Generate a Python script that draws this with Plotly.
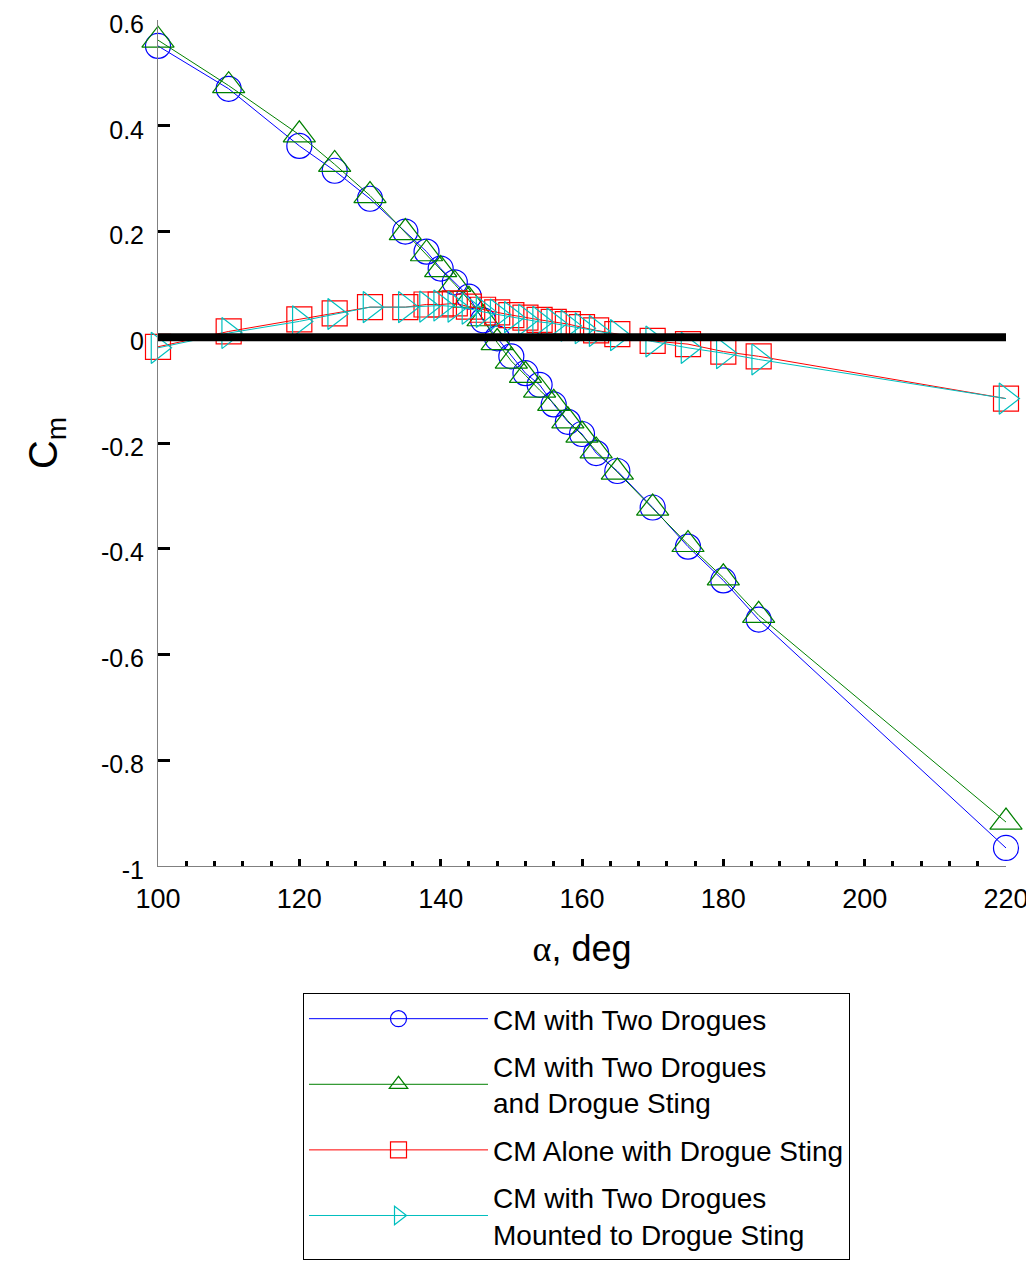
import plotly.graph_objects as go

alpha_deg = [100, 110, 120, 125, 130, 135, 138, 140, 142, 144, 146, 148, 150,
             152, 154, 156, 158, 160, 162, 165, 170, 175, 180, 185, 220]

cm_two_drogues = [0.551, 0.470, 0.362, 0.315, 0.262, 0.200, 0.162, 0.130, 0.104,
                  0.077, 0.032, -0.002, -0.036, -0.068, -0.090, -0.127, -0.160,
                  -0.183, -0.219, -0.253, -0.322, -0.396, -0.460, -0.534, -0.966]

cm_two_drogues_sting = [0.562, 0.476, 0.383, 0.327, 0.268, 0.198, 0.158, 0.128,
                        0.100, 0.070, 0.035, -0.010, -0.045, -0.072, -0.100,
                        -0.125, -0.158, -0.185, -0.215, -0.255, -0.323, -0.392,
                        -0.455, -0.526, -0.917]

cm_alone_sting = [-0.018, 0.011, 0.034, 0.045, 0.057, 0.057, 0.062, 0.062, 0.064,
                  0.058, 0.052, 0.047, 0.042, 0.037, 0.033, 0.029, 0.025, 0.019,
                  0.013, 0.006, -0.007, -0.013, -0.027, -0.036, -0.116]

cm_mounted_sting = [-0.020, 0.008, 0.030, 0.044, 0.057, 0.057, 0.058, 0.060,
                    0.058, 0.054, 0.048, 0.043, 0.038, 0.033, 0.029, 0.026,
                    0.022, 0.017, 0.012, 0.004, -0.008, -0.020, -0.030, -0.042,
                    -0.116]

zero_x = [100, 220]
zero_y = [0, 0]

x_ticks = [100, 120, 140, 160, 180, 200, 220]
y_ticks = [-1, -0.8, -0.6, -0.4, -0.2, 0, 0.2, 0.4, 0.6]
y_tick_text = ["-1", "-0.8", "-0.6", "-0.4", "-0.2", "0", "0.2", "0.4", "0.6"]

series_names = ["CM with Two Drogues",
                "CM with Two Drogues<br>and Drogue Sting",
                "CM Alone with Drogue Sting",
                "CM with Two Drogues<br>Mounted to Drogue Sting"]

FONT = "Liberation Sans, Arial, Helvetica, sans-serif"

fig = go.Figure()

specs = [
    (cm_two_drogues, "#0000FF", "circle-open", 25),
    (cm_two_drogues_sting, "#008000", "triangle-up-open", 28),
    (cm_alone_sting, "#FF0000", "square-open", 25),
    (cm_mounted_sting, "#00BFBF", "triangle-right-open", 27),
]
for i, ((vals, col, sym, sz), name) in enumerate(zip(specs, series_names)):
    fig.add_trace(go.Scatter(
        x=alpha_deg, y=vals, name=name, mode="lines+markers",
        legendgroup=f"g{i}",
        line=dict(color=col, width=1),
        marker=dict(symbol=sym, size=sz, color=col, line=dict(color=col, width=1.2)),
        cliponaxis=False,
    ))

fig.add_trace(go.Scatter(
    x=zero_x, y=zero_y, mode="lines", showlegend=False,
    line=dict(color="black", width=8), hoverinfo="skip", cliponaxis=False,
))

# page body has an 8px margin, so the figure is 8px smaller than the window
fig.update_layout(
    width=1026, height=1256,
    margin=dict(l=150, r=28, t=12, b=398, autoexpand=False),
    paper_bgcolor="white", plot_bgcolor="white",
    font=dict(family=FONT, size=26, color="black"),
    showlegend=True,
    legend=dict(
        x=0.171, y=-0.1501, xanchor="left", yanchor="top",
        bordercolor="black", borderwidth=1, bgcolor="white",
        font=dict(family=FONT, size=28, color="black"),
        itemwidth=179, tracegroupgap=8,
    ),
)

fig.update_xaxes(
    range=[100, 220], tickvals=x_ticks,
    ticks="inside", ticklen=7, tickwidth=3, tickcolor="black",
    minor=dict(dtick=4, tick0=100, ticks="inside", ticklen=5, tickwidth=3, tickcolor="black"),
    showline=True, linecolor="#808080", linewidth=1, mirror=False,
    showgrid=False, zeroline=False, automargin=False,
    tickfont=dict(family=FONT, size=27), ticklabelstandoff=9,
    title=dict(text="<span style='font-family:Liberation Serif'>α</span>, deg",
               font=dict(family=FONT, size=36), standoff=22),
)
fig.update_yaxes(
    range=[-1.0001, 0.6001], tickvals=y_ticks, ticktext=y_tick_text,
    ticks="inside", ticklen=12, tickwidth=3, tickcolor="black",
    showline=True, linecolor="#808080", linewidth=1, mirror=False,
    showgrid=False, zeroline=False, automargin=False,
    tickfont=dict(family=FONT, size=25), ticklabelstandoff=8,
    ticklabelshift=4, ticklabeloverflow="allow",
    title=dict(text="C<sub>m</sub>", font=dict(family=FONT, size=40), standoff=30),
)

fig.write_html("out.html")
